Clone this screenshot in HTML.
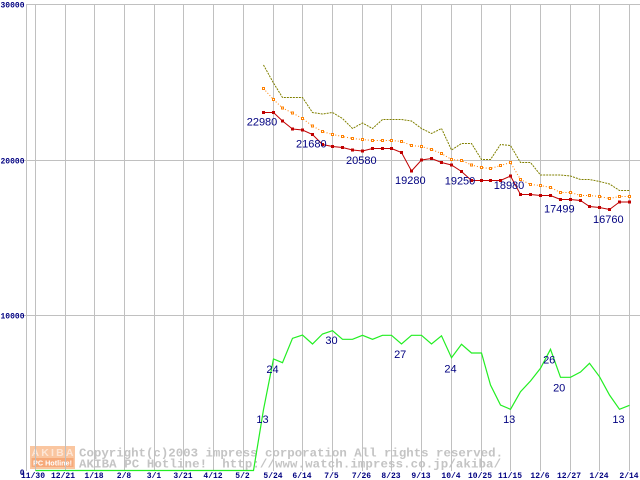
<!DOCTYPE html>
<html><head><meta charset="utf-8"><style>
html,body{margin:0;padding:0;background:#fff;}
svg{display:block;}
</style></head><body>
<svg width="640" height="480" viewBox="0 0 640 480" xmlns="http://www.w3.org/2000/svg">
<defs>
<marker id="mr" markerUnits="userSpaceOnUse" markerWidth="4" markerHeight="4" refX="2" refY="2" viewBox="0 0 4 4"><rect x="0.5" y="0.5" width="3" height="3" fill="#c00000"/></marker>
<marker id="mo" markerUnits="userSpaceOnUse" markerWidth="4" markerHeight="4" refX="2" refY="2" viewBox="0 0 4 4"><rect x="0.5" y="0.5" width="3" height="3" fill="#ff8000"/><rect x="1.5" y="1.5" width="1" height="1" fill="#fff"/></marker>
</defs>
<rect width="640" height="480" fill="#fff"/>
<!-- watermark -->
<rect x="30" y="446" width="45" height="23" fill="#fac6a0"/>
<text x="31.5" y="456" font-family="Liberation Sans, sans-serif" font-weight="bold" font-size="10.5" fill="#fde6d6" textLength="42" lengthAdjust="spacing">AKIBA</text>
<rect x="31.5" y="458" width="42" height="9" fill="#f6aa7a"/>
<text x="33" y="465.5" font-family="Liberation Sans, sans-serif" font-weight="bold" font-size="7.5" fill="#fff" textLength="39" lengthAdjust="spacingAndGlyphs">PC Hotline!</text>
<g font-family="Liberation Mono, monospace" font-weight="bold" font-size="12.4" fill="#c4c4c4">
<text x="79" y="456.5" textLength="424" lengthAdjust="spacing">Copyright(c)2003 impress corporation All rights reserved.</text>
<text x="79" y="467.5" textLength="422" lengthAdjust="spacing">AKIBA PC Hotline!&#160; http://www.watch.impress.co.jp/akiba/</text>
</g>
<!-- grid -->
<g stroke="#c0c0c0" stroke-width="1" shape-rendering="crispEdges">
<line x1="26" y1="4.5" x2="640" y2="4.5"/>
<line x1="24" y1="160.5" x2="640" y2="160.5"/>
<line x1="24" y1="315.5" x2="640" y2="315.5"/>
<line x1="26.5" y1="4" x2="26.5" y2="471"/>
<line x1="35.5" y1="4" x2="35.5" y2="471"/>
<line x1="65.5" y1="4" x2="65.5" y2="471"/>
<line x1="94.5" y1="4" x2="94.5" y2="471"/>
<line x1="124.5" y1="4" x2="124.5" y2="471"/>
<line x1="154.5" y1="4" x2="154.5" y2="471"/>
<line x1="183.5" y1="4" x2="183.5" y2="471"/>
<line x1="213.5" y1="4" x2="213.5" y2="471"/>
<line x1="243.5" y1="4" x2="243.5" y2="471"/>
<line x1="273.5" y1="4" x2="273.5" y2="471"/>
<line x1="302.5" y1="4" x2="302.5" y2="471"/>
<line x1="332.5" y1="4" x2="332.5" y2="471"/>
<line x1="362.5" y1="4" x2="362.5" y2="471"/>
<line x1="391.5" y1="4" x2="391.5" y2="471"/>
<line x1="421.5" y1="4" x2="421.5" y2="471"/>
<line x1="451.5" y1="4" x2="451.5" y2="471"/>
<line x1="481.5" y1="4" x2="481.5" y2="471"/>
<line x1="510.5" y1="4" x2="510.5" y2="471"/>
<line x1="540.5" y1="4" x2="540.5" y2="471"/>
<line x1="570.5" y1="4" x2="570.5" y2="471"/>
<line x1="599.5" y1="4" x2="599.5" y2="471"/>
<line x1="629.5" y1="4" x2="629.5" y2="471"/>
</g>
<!-- y labels -->
<g font-family="Liberation Mono, monospace" font-weight="bold" font-size="8" fill="#000080" text-anchor="end">
<text x="24.5" y="7.5">30000</text>
<text x="24.5" y="163.5">20000</text>
<text x="24.5" y="318.5">10000</text>
<text x="24.5" y="475">0</text>
</g>
<!-- x labels -->
<g font-family="Liberation Mono, monospace" font-weight="bold" font-size="8" fill="#000080" text-anchor="middle">
<text x="33" y="478">11/30</text>
<text x="63" y="478">12/21</text>
<text x="94" y="478">1/18</text>
<text x="124" y="478">2/8</text>
<text x="154" y="478">3/1</text>
<text x="183" y="478">3/21</text>
<text x="213" y="478">4/12</text>
<text x="242.5" y="478">5/2</text>
<text x="273" y="478">5/24</text>
<text x="302" y="478">6/14</text>
<text x="331.5" y="478">7/5</text>
<text x="361.5" y="478">7/26</text>
<text x="391" y="478">8/23</text>
<text x="421" y="478">9/13</text>
<text x="451" y="478">10/4</text>
<text x="480" y="478">10/25</text>
<text x="510" y="478">11/15</text>
<text x="540" y="478">12/6</text>
<text x="569" y="478">12/27</text>
<text x="599" y="478">1/24</text>
<text x="629" y="478">2/14</text>
</g>
<!-- olive series -->
<polyline fill="none" stroke="#808000" stroke-width="1" stroke-dasharray="2,1" points="263.5,65 273.5,83 282.5,97.5 292.5,97.5 302.5,97.5 312.5,112.5 322.5,114 332.5,112.5 342.5,118.5 352.5,128.5 362.5,123 372.5,128.5 382.5,119.5 391.5,119.5 401.5,119.5 411.5,121 421.5,128.5 431.5,133.5 441.5,128.5 451.5,150 461.5,143.5 471.5,143.5 481.5,159.5 490.5,159.5 500.5,144.5 510.5,145.5 520.5,162.5 530.5,162.5 540.5,175 550.5,175 560.5,175 570.5,176 580.5,179.5 589.5,179.5 599.5,181.5 609.5,184 619.5,190.5 629.5,190.5"/>
<!-- orange series -->
<polyline fill="none" stroke="#ff8000" stroke-width="1" stroke-dasharray="1,2" marker-start="url(#mo)" marker-mid="url(#mo)" marker-end="url(#mo)" points="263.5,88.5 273.5,99.5 282.5,108 292.5,113 302.5,118.5 312.5,126 322.5,131.5 332.5,134.5 342.5,136.5 352.5,138.5 362.5,139.5 372.5,140.5 382.5,140.5 391.5,140.5 401.5,141.5 411.5,145.5 421.5,146.5 431.5,149.5 441.5,153.5 451.5,159.5 461.5,160.5 471.5,165 481.5,167.5 490.5,168.5 500.5,165.5 510.5,162.5 520.5,179.5 530.5,184.5 540.5,185.5 550.5,187.5 560.5,192.5 570.5,192.5 580.5,195.5 589.5,195.5 599.5,196.5 609.5,198.5 619.5,196.5 629.5,196.5"/>
<!-- red series -->
<polyline fill="none" stroke="#c00000" stroke-width="1" marker-start="url(#mr)" marker-mid="url(#mr)" marker-end="url(#mr)" points="263.5,112.5 273.5,112.5 282.5,121 292.5,129 302.5,130 312.5,134.5 322.5,144.5 332.5,146.5 342.5,147.5 352.5,150 362.5,151 372.5,148.5 382.5,148.5 391.5,148.5 401.5,152.5 411.5,171 421.5,160 431.5,158.5 441.5,162.5 451.5,165 461.5,171.5 471.5,180.5 481.5,180.5 490.5,180.5 500.5,180.5 510.5,176 520.5,194.5 530.5,194.5 540.5,195.5 550.5,195.5 560.5,199.5 570.5,199.5 580.5,200.5 589.5,206.5 599.5,207.5 609.5,209.5 619.5,202 629.5,202"/>
<!-- green series -->
<polyline fill="none" stroke="#22ee22" stroke-width="1.2" points="35.5,470.5 253.5,470.5 263.5,409.6 273.5,359 282.5,362.7 292.5,338.3 302.5,335 312.5,344 322.5,334 332.5,330.7 342.5,339.3 352.5,339.3 362.5,335.3 372.5,339.3 382.5,335.3 391.5,335.3 401.5,344 411.5,335.3 421.5,335.3 431.5,344 441.5,335.8 451.5,357.7 461.5,344.3 471.5,353 481.5,353 490.5,385 500.5,405 510.5,409.3 520.5,391.7 530.5,381 540.5,368.3 550.5,349.3 560.5,377.3 570.5,377.3 580.5,372 589.5,363.3 599.5,376.7 609.5,395 619.5,409.3 629.5,405.3"/>
<!-- data labels -->
<g font-family="Liberation Sans, sans-serif" font-size="11" fill="#000080" text-anchor="middle">
<text x="262" y="125.7">22980</text>
<text x="311.3" y="147.3">21680</text>
<text x="361.3" y="164">20580</text>
<text x="410.3" y="184">19280</text>
<text x="460" y="184.7">19250</text>
<text x="509" y="189">18980</text>
<text x="559.3" y="212.3">17499</text>
<text x="608.3" y="223">16760</text>
<text x="262.5" y="423">13</text>
<text x="272.5" y="373">24</text>
<text x="331.5" y="344">30</text>
<text x="400.2" y="358">27</text>
<text x="450.5" y="372.3">24</text>
<text x="509.2" y="423">13</text>
<text x="549.2" y="363.3">26</text>
<text x="559.2" y="391.3">20</text>
<text x="618.5" y="423">13</text>
</g>
</svg>
</body></html>
